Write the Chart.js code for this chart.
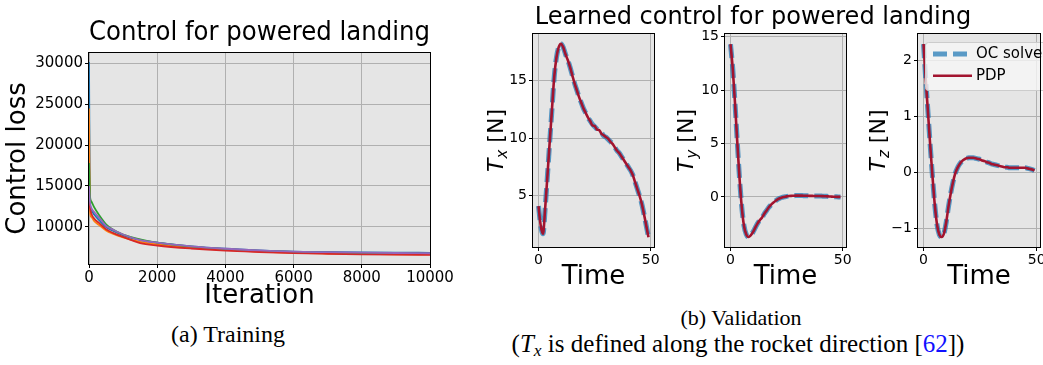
<!DOCTYPE html>
<html lang="en">
<head>
  <meta charset="UTF-8">
  <title>Control for powered landing</title>
  <script src="https://cdn.jsdelivr.net/npm/chart.js"></script>
  <style>
    body { margin: 0; width: 1043px; height: 365px; overflow: hidden; position: relative; background: #fff; }
    canvas { position: absolute; }
    .caption { position: absolute; font-family: "Liberation Serif", serif; font-size: 22px; line-height: 26px; text-align: center; color: #000; white-space: nowrap; }
    .suptitle { position: absolute; font-family: "DejaVu Sans", sans-serif; font-size: 24px; line-height: 24px; text-align: center; color: #000; white-space: nowrap; }
    .caption sub { font-size: 70%; vertical-align: -4px; line-height: 0; }
    .cite { color: #1010ff; }
  </style>
</head>
<body>
  <!-- (a) training loss -->
  <canvas id="lossChart" width="460" height="312" style="left:0; top:0;"></canvas>
  <div class="caption" style="left:78px; top:321px; width:300px; font-size:24px;">(a) Training</div>

  <!-- (b) validation -->
  <div class="suptitle" style="left:453px; top:4px; width:600px;">Learned control for powered landing</div>
  <canvas id="txChart" width="199" height="279" style="left:475px; top:14px;"></canvas>
  <canvas id="tyChart" width="199" height="279" style="left:667px; top:14px;"></canvas>
  <canvas id="tzChart" width="200" height="279" style="left:860px; top:14px;"></canvas>
  <div class="caption" style="left:541px; top:305px; width:400px;">(b) Validation</div>
  <div class="caption" style="left:488px; top:331px; width:500px; font-size:25px;">(<i>T</i><sub><i>x</i></sub> is defined along the rocket direction [<span class="cite">62</span>])</div>

  <script>
    // ---- training loss, several runs ----
    const iterations = [0, 30, 70, 150, 300, 500, 700, 1000, 1500, 2000, 3000, 4000, 5000, 6000, 7000, 8000, 9000, 10000];
    const lossRun1 = [30200, 12600, 12000, 11500, 10800, 9950, 9500, 8950, 8350, 8050, 7600, 7300, 7100, 6950, 6900, 6850, 6820, 6800];
    const lossRun2 = [24500, 11800, 11200, 10700, 10200, 9550, 9150, 8700, 8150, 7850, 7450, 7150, 6950, 6800, 6720, 6660, 6620, 6600];
    const lossRun3 = [17800, 13700, 13100, 12400, 11400, 10300, 9650, 9050, 8450, 8050, 7550, 7250, 7050, 6900, 6820, 6760, 6720, 6700];
    const lossRun4 = [13500, 12300, 11600, 11000, 10450, 9700, 9250, 8750, 8000, 7700, 7330, 7070, 6900, 6760, 6680, 6620, 6580, 6550];
    const lossRun5 = [15000, 13000, 12300, 11800, 11100, 10100, 9650, 9050, 8370, 8050, 7600, 7300, 7100, 6950, 6880, 6820, 6780, 6750];
    const lossTicksX = [0, 2000, 4000, 6000, 8000, 10000];
    const lossTicksY = [10000, 15000, 20000, 25000, 30000];

    // ---- validation: OC solver vs PDP, 50 time steps ----
    const ocTx = [4.1, 2.4, 1.7, 4.0, 6.8, 9.7, 12.5, 15.3, 17.0, 17.9,
                  18.2, 17.9, 17.3, 16.8, 16.2, 15.5, 14.8, 14.2, 13.6, 13.1,
                  12.6, 12.2, 11.8, 11.5, 11.2, 11.0, 10.8, 10.6, 10.5, 10.2,
                  10.1, 9.9, 9.7, 9.5, 9.2, 8.9, 8.7, 8.4, 8.1, 7.8,
                  7.5, 7.2, 6.8, 6.2, 5.6, 5.0, 4.3, 3.4, 2.4, 1.4];
    const pdpTx = [4.1, 2.4, 1.7, 4.0, 6.8, 9.7, 12.5, 15.3, 17.0, 17.9,
                   18.2, 17.9, 17.3, 16.8, 16.2, 15.5, 14.8, 14.2, 13.6, 13.1,
                   12.6, 12.2, 11.8, 11.5, 11.1, 11.05, 10.75, 10.7, 10.4, 10.25,
                   10.1, 9.95, 9.7, 9.5, 9.2, 8.9, 8.7, 8.4, 8.1, 7.8,
                   7.5, 7.2, 6.8, 6.2, 5.6, 5.0, 4.3, 3.4, 2.4, 1.4];
    const ocTy = [14.3, 12.0, 8.8, 5.2, 1.8, -0.9, -2.7, -3.5, -3.75, -3.6,
                  -3.3, -2.9, -2.5, -2.2, -1.95, -1.6, -1.3, -1.0, -0.75, -0.55,
                  -0.38, -0.24, -0.13, -0.05, 0.0, 0.05, 0.08, 0.1, 0.11, 0.12,
                  0.12, 0.12, 0.12, 0.11, 0.11, 0.1, 0.1, 0.09, 0.09, 0.08,
                  0.08, 0.07, 0.06, 0.05, 0.04, 0.03, 0.02, 0.01, 0.0, 0.0];
    const pdpTy = ocTy;
    const ocTz = [2.3, 1.65, 1.05, 0.45, -0.1, -0.6, -0.95, -1.12, -1.16, -1.1,
                  -0.9, -0.62, -0.38, -0.18, -0.02, 0.08, 0.15, 0.2, 0.23, 0.25,
                  0.26, 0.26, 0.26, 0.25, 0.24, 0.23, 0.21, 0.2, 0.18, 0.17,
                  0.15, 0.14, 0.13, 0.12, 0.11, 0.1, 0.09, 0.09, 0.08, 0.08,
                  0.08, 0.08, 0.08, 0.08, 0.08, 0.08, 0.07, 0.06, 0.05, 0.03];
    const pdpTz = ocTz;
    const timeTicks = [0, 50];
    const txTicks = [5, 10, 15];
    const tyTicks = [0, 5, 10, 15];
    const tzTicks = [-1, 0, 1, 2];

    Chart.defaults.font.family = "'DejaVu Sans', sans-serif";
    Chart.defaults.color = "#000";

    // gray plot background + black frame just outside the plot area
    const plotFrame = {
      id: "plotFrame",
      beforeDraw(chart) {
        const { ctx, chartArea: a } = chart;
        ctx.save();
        ctx.fillStyle = "#e5e5e5";
        ctx.fillRect(a.left, a.top, a.right - a.left, a.bottom - a.top);
        ctx.restore();
      },
      afterDraw(chart) {
        const { ctx, chartArea: a } = chart;
        ctx.save();
        ctx.strokeStyle = "#000";
        ctx.lineWidth = 1;
        ctx.strokeRect(Math.round(a.left) - 0.5, Math.round(a.top) - 0.5,
          Math.round(a.right - a.left) + 1, Math.round(a.bottom - a.top) + 1);
        ctx.restore();
      }
    };

    // y label like "$T_x$ [N]"
    const mathLabel = {
      id: "mathLabel",
      afterDraw(chart, args, opts) {
        if (!opts.sub) return;
        const { ctx, chartArea: a } = chart;
        const size = 22;
        const big = `italic ${size}px 'DejaVu Sans'`;
        const small = `italic ${Math.round(size * 0.7)}px 'DejaVu Sans'`;
        const plain = `${size}px 'DejaVu Sans'`;
        ctx.save();
        ctx.translate(a.left - opts.offset, (a.top + a.bottom) / 2);
        ctx.rotate(-Math.PI / 2);
        ctx.fillStyle = "#000";
        ctx.textBaseline = "alphabetic";
        ctx.font = big; const wT = ctx.measureText("T").width;
        ctx.font = small; const wS = ctx.measureText(opts.sub).width;
        ctx.font = plain; const wR = ctx.measureText(" [N]").width;
        let x = -(wT + wS + wR) / 2;
        const base = size * 0.36;
        ctx.font = big; ctx.fillText("T", x, base); x += wT;
        ctx.font = small; ctx.fillText(opts.sub, x, base + 4); x += wS;
        ctx.font = plain; ctx.fillText(" [N]", x, base);
        ctx.restore();
      }
    };

    // framed legend in the upper left of the plot
    const boxLegend = {
      id: "boxLegend",
      afterDatasetsDraw(chart, args, opts) {
        if (!opts.display) return;
        const { ctx, chartArea: a } = chart;
        const x = a.left + 7, y = a.top + 8;
        ctx.save();
        ctx.fillStyle = "rgba(246,246,246,0.8)";
        ctx.strokeStyle = "#cccccc";
        ctx.lineWidth = 1;
        ctx.beginPath();
        ctx.roundRect(x + 0.5, y + 0.5, 160, 48, 3);
        ctx.fill();
        ctx.stroke();
        ctx.font = "15px 'DejaVu Sans'";
        ctx.textBaseline = "middle";
        chart.data.datasets.forEach((ds, i) => {
          const ly = y + 12 + i * 21.7;
          ctx.save();
          ctx.strokeStyle = ds.borderColor;
          ctx.lineWidth = ds.borderWidth;
          ctx.setLineDash(ds.borderDash || []);
          ctx.beginPath();
          ctx.moveTo(x + 8, ly);
          ctx.lineTo(x + 47, ly);
          ctx.stroke();
          ctx.restore();
          ctx.fillStyle = "#000";
          ctx.fillText(ds.label, x + 51, ly);
        });
        ctx.restore();
      }
    };

    Chart.register(plotFrame, mathLabel, boxLegend);

    const pts = (xs, ys) => ys.map((v, i) => ({ x: xs[i], y: v }));
    const minus = v => String(v).replace("-", "\u2212");

    function scaleSet(o) {
      const grid = { color: "#b0b0b0", lineWidth: 1, tickLength: 4, tickColor: "#000", drawTicks: true };
      return {
        x: {
          type: "linear", min: o.xMin, max: o.xMax,
          afterBuildTicks: s => { s.ticks = o.xTicks.map(v => ({ value: v })); },
          afterFit: s => { s.height = o.xHeight; },
          ticks: { font: { size: o.tickSize }, padding: 1, maxRotation: 0, callback: minus },
          grid: grid,
          border: { display: false },
          title: { display: true, text: o.xTitle, font: { size: 26 }, padding: { top: 0, bottom: 0 } }
        },
        y: {
          type: "linear", min: o.yMin, max: o.yMax,
          afterBuildTicks: s => { s.ticks = o.yTicks.map(v => ({ value: v })); },
          afterFit: s => { s.width = o.yWidth; },
          ticks: { font: { size: o.tickSize }, padding: 2, callback: minus },
          grid: grid,
          border: { display: false },
          title: o.yTitle ? { display: true, text: o.yTitle, font: { size: 26 }, padding: { top: 2.4, bottom: 0 } } : { display: false }
        }
      };
    }

    // (a) Training
    const runColors = ["#1f77b4", "#ff7f0e", "#2ca02c", "#d62728", "#9467bd"];
    const runs = [lossRun1, lossRun2, lossRun3, lossRun4, lossRun5];
    new Chart(document.getElementById("lossChart"), {
      type: "line",
      data: {
        datasets: runs.map((r, i) => ({
          data: pts(iterations, r),
          borderColor: runColors[i],
          borderWidth: 1.8,
          pointRadius: 0,
          cubicInterpolationMode: "monotone",
          order: runs.length - i
        }))
      },
      options: {
        responsive: false,
        animation: false,
        layout: { padding: { top: 0, right: 30, left: 0, bottom: 0 } },
        plugins: {
          legend: { display: false },
          tooltip: { enabled: false },
          title: {
            display: true, fullSize: false,
            text: "Control for powered landing",
            font: { size: 26, weight: "normal" },
            color: "#000",
            padding: { top: 17.4, bottom: 4.4 }
          }
        },
        scales: scaleSet({
          xMin: 0, xMax: 10000, xTicks: lossTicksX, xHeight: 48, xTitle: "Iteration",
          yMin: 5430, yMax: 31300, yTicks: lossTicksY, yWidth: 89, yTitle: "Control loss",
          tickSize: 15
        })
      }
    });

    // (b) Validation panels
    function drawPanel(id, oc, pdp, yMin, yMax, yTicks, sub, offset, withLegend) {
      const steps = oc.map((_, i) => i);
      new Chart(document.getElementById(id), {
        type: "line",
        data: {
          datasets: [
            {
              label: "OC solver",
              data: pts(steps, oc),
              borderColor: "rgba(31,119,180,0.72)",
              borderWidth: 5,
              borderDash: [14, 6],
              borderCapStyle: "butt",
              pointRadius: 0,
              cubicInterpolationMode: "monotone",
              order: 2
            },
            {
              label: "PDP",
              data: pts(steps, pdp),
              borderColor: "#a2142f",
              borderWidth: 2.6,
              pointRadius: 0,
              cubicInterpolationMode: "monotone",
              order: 1
            }
          ]
        },
        options: {
          responsive: false,
          animation: false,
          layout: { padding: { top: 20, right: 20, left: 0, bottom: 0 } },
          plugins: {
            legend: { display: false },
            tooltip: { enabled: false },
            mathLabel: { sub: sub, offset: offset },
            boxLegend: { display: withLegend }
          },
          scales: scaleSet({
            xMin: -2.45, xMax: 51.45, xTicks: timeTicks, xHeight: 46, xTitle: "Time",
            yMin: yMin, yMax: yMax, yTicks: yTicks, yWidth: 58, yTitle: null,
            tickSize: 14
          })
        }
      });
    }

    drawPanel("txChart", ocTx, pdpTx, 0.55, 19.04, txTicks, "x", 38, false);
    drawPanel("tyChart", ocTy, pdpTy, -4.69, 15.25, tyTicks, "y", 40, false);
    drawPanel("tzChart", ocTz, pdpTz, -1.34, 2.48, tzTicks, "z", 41, true);
  </script>
</body>
</html>
